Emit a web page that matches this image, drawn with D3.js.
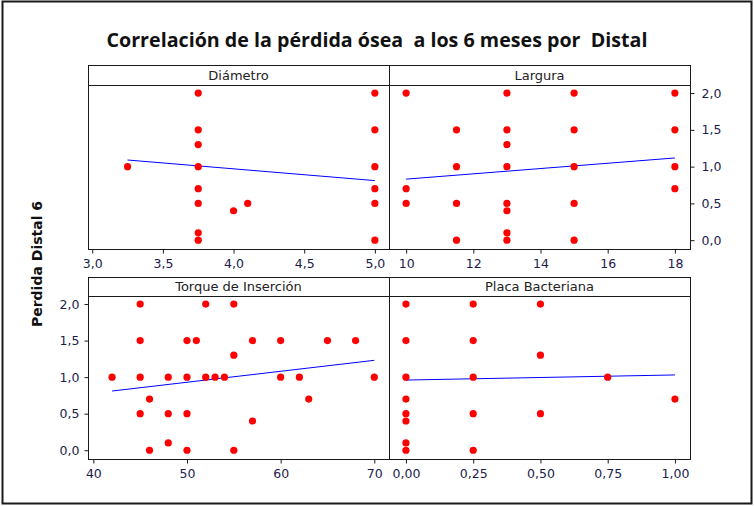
<!DOCTYPE html>
<html>
<head>
<meta charset="utf-8">
<script src="https://d3js.org/d3.v7.min.js"></script>
<style>
  body { margin: 0; background: #fff; }
  svg { display: block; }
  .frame { fill: none; stroke: #1a1a1a; stroke-width: 2px; }
  .box { fill: none; stroke: #1a1a1a; stroke-width: 1px; }
  .strip { fill: #fff; stroke: #1a1a1a; stroke-width: 1px; }
  .strip-label { font-family: "DejaVu Sans", sans-serif; font-size: 13px; fill: #222; }
  .axis text { font-family: "DejaVu Sans", sans-serif; font-size: 12.5px; fill: #1c1c4c; }
  .axis line { stroke: #1a1a1a; }
  .axis path { display: none; }
  .dot { fill: #ff0000; }
  .fit { stroke: #0000ff; stroke-width: 1px; fill: none; }
  .title { font-family: "Open Sans", sans-serif; font-weight: bold; font-size: 20px; fill: #111; white-space: pre; }
  .ylabel { font-family: "DejaVu Sans", sans-serif; font-weight: bold; font-size: 14px; fill: #111; }
</style>
</head>
<body>
<svg id="chart" width="754" height="506"></svg>
<script>

// --- data ---
var title = "Correlación de la pérdida ósea  a los 6 meses por  Distal";
var yLabel = "Perdida Distal 6";
var panelNames = ["Diámetro", "Largura", "Torque de Inserción", "Placa Bacteriana"];

var diamX = [3.25, 3.75, 3.75, 3.75, 3.75, 3.75, 3.75, 3.75, 3.75, 4.0, 4.1, 5, 5, 5, 5, 5, 5];
var diamY = [1.0, 2.0, 1.5, 1.3, 1.0, 0.7, 0.5, 0.1, 0.0, 0.4, 0.5, 2.0, 1.5, 1.0, 0.7, 0.5, 0.0];

var largX = [10, 10, 10, 11.5, 11.5, 11.5, 11.5, 13, 13, 13, 13, 13, 13, 13, 13, 15, 15, 15, 15, 15, 18, 18, 18, 18];
var largY = [2.0, 0.7, 0.5, 1.5, 1.0, 0.5, 0.0, 2.0, 1.5, 1.3, 1.0, 0.5, 0.4, 0.1, 0.0, 2.0, 1.5, 1.0, 0.5, 0.0, 2.0, 1.5, 1.0, 0.7];

var torqX = [42, 45, 45, 45, 45, 46, 46, 48, 48, 48, 50, 50, 50, 50, 51, 52, 52, 53, 54, 55, 55, 55, 57, 57, 60, 60, 62, 63, 65, 68, 70];
var torqY = [1.0, 2.0, 1.5, 1.0, 0.5, 0.7, 0.0, 1.0, 0.5, 0.1, 1.5, 1.0, 0.5, 0.0, 1.5, 2.0, 1.0, 1.0, 1.0, 2.0, 1.3, 0.0, 1.5, 0.4, 1.5, 1.0, 1.0, 0.7, 1.5, 1.5, 1.0];

var placX = [0, 0, 0, 0, 0, 0, 0, 0, 0.25, 0.25, 0.25, 0.25, 0.25, 0.5, 0.5, 0.5, 0.75, 1.0];
var placY = [2.0, 1.5, 1.0, 0.7, 0.5, 0.4, 0.1, 0.0, 2.0, 1.5, 1.0, 0.5, 0.0, 2.0, 1.3, 0.5, 1.0, 0.7];

// fitted lines: [intercept, slope]
var diamFit = [1.61, -0.16];
var largFit = [0.47, 0.036];
var torqFit = [0.18, 0.015];
var placFit = [0.96, 0.07];

var diamTicks = [3.0, 3.5, 4.0, 4.5, 5.0];
var largTicks = [10, 12, 14, 16, 18];
var torqTicks = [40, 50, 60, 70];
var placTicks = [0, 0.25, 0.5, 0.75, 1.0];
var yTicks = [0, 0.5, 1.0, 1.5, 2.0];

var diamDomain = [2.97, 5.10];
var largDomain = [9.49, 18.45];
var torqDomain = [39.43, 71.57];
var placDomain = [-0.063, 1.056];
var yDomain = [-0.12, 2.11];

// --- layout ---
var svg = d3.select("#chart");
var cols = [88, 389, 690];
var rows = [
  {top: 65, head: 85, bottom: 249},
  {top: 277, head: 296, bottom: 459}
];

var comma = d3.formatLocale({decimal: ",", thousands: ".", grouping: [3], currency: ["", ""]});

var panels = [
  {name: panelNames[0], xs: diamX, ys: diamY, fit: diamFit, ticks: diamTicks, domain: diamDomain, fmt: comma.format(".1f"), col: 0, row: 0},
  {name: panelNames[1], xs: largX, ys: largY, fit: largFit, ticks: largTicks, domain: largDomain, fmt: comma.format("d"), col: 1, row: 0},
  {name: panelNames[2], xs: torqX, ys: torqY, fit: torqFit, ticks: torqTicks, domain: torqDomain, fmt: comma.format("d"), col: 0, row: 1},
  {name: panelNames[3], xs: placX, ys: placY, fit: placFit, ticks: placTicks, domain: placDomain, fmt: comma.format(".2f"), col: 1, row: 1}
];

svg.append("rect")
    .attr("class", "frame")
    .attr("x", 2.5).attr("y", 1.5)
    .attr("width", 749).attr("height", 502);

svg.append("text")
    .attr("class", "title")
    .attr("x", 377).attr("y", 47)
    .attr("text-anchor", "middle")
    .attr("textLength", 541)
    .attr("lengthAdjust", "spacingAndGlyphs")
    .text(title);

svg.append("text")
    .attr("class", "ylabel")
    .attr("transform", "translate(42,264) rotate(-90)")
    .attr("text-anchor", "middle")
    .text(yLabel);

panels.forEach(function(p) {
  var x0 = cols[p.col], x1 = cols[p.col + 1];
  var r = rows[p.row];

  var x = d3.scaleLinear().domain(p.domain).range([x0, x1]);
  var y = d3.scaleLinear().domain(yDomain).range([r.bottom, r.head]);

  var g = svg.append("g");

  // header strip
  g.append("rect")
      .attr("class", "strip")
      .attr("x", x0 + 0.5).attr("y", r.top + 0.5)
      .attr("width", x1 - x0).attr("height", r.head - r.top);
  g.append("text")
      .attr("class", "strip-label")
      .attr("x", (x0 + x1) / 2).attr("y", (r.top + r.head) / 2)
      .attr("dy", "0.36em")
      .attr("text-anchor", "middle")
      .text(p.name);

  // plot box
  g.append("rect")
      .attr("class", "box")
      .attr("x", x0 + 0.5).attr("y", r.head + 0.5)
      .attr("width", x1 - x0).attr("height", r.bottom - r.head);

  // x axis
  g.append("g")
      .attr("class", "axis")
      .attr("transform", "translate(0," + (r.bottom + 0.5) + ")")
      .call(d3.axisBottom(x).tickValues(p.ticks).tickFormat(p.fmt).tickSize(4).tickPadding(6));

  // y axes: left on bottom-left, right on top-right
  if (p.col == 0 && p.row == 1) {
    g.append("g")
        .attr("class", "axis")
        .attr("transform", "translate(" + (x0 + 0.5) + ",0)")
        .call(d3.axisLeft(y).tickValues(yTicks).tickFormat(comma.format(".1f")).tickSize(4).tickPadding(5));
  }
  if (p.col == 1 && p.row == 0) {
    g.append("g")
        .attr("class", "axis")
        .attr("transform", "translate(" + (x1 + 0.5) + ",0)")
        .call(d3.axisRight(y).tickValues(yTicks).tickFormat(comma.format(".1f")).tickSize(4).tickPadding(7));
  }

  // fitted line
  var ext = d3.extent(p.xs);
  g.append("line")
      .attr("class", "fit")
      .attr("x1", x(ext[0])).attr("y1", y(p.fit[0] + p.fit[1] * ext[0]))
      .attr("x2", x(ext[1])).attr("y2", y(p.fit[0] + p.fit[1] * ext[1]));

  // points
  g.selectAll("circle")
      .data(d3.range(p.xs.length))
      .enter().append("circle")
        .attr("class", "dot")
        .attr("cx", function(i) { return x(p.xs[i]); })
        .attr("cy", function(i) { return y(p.ys[i]); })
        .attr("r", 3.6);
});

</script>
</body>
</html>
